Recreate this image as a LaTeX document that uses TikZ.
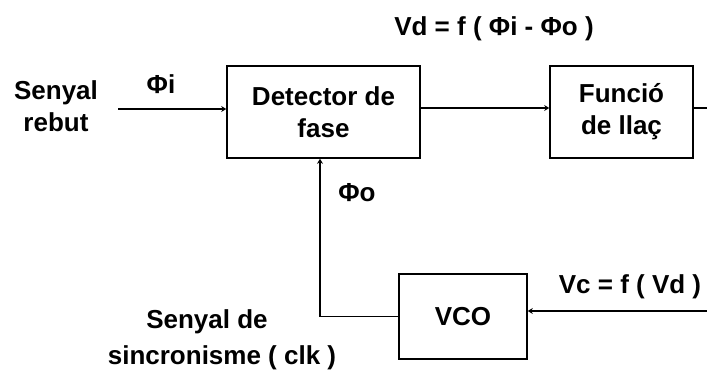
\documentclass[tikz,border=0pt]{standalone}
\usepackage{fontspec}
\setmainfont{Liberation Sans}
\usetikzlibrary{arrows.meta}

\begin{document}
\begin{tikzpicture}[x=1pt, y=-1pt,
        font=\fontsize{26}{32}\selectfont\bfseries,
        blok/.style={draw, line width=1.6pt, align=center, inner sep=0pt},
        linia/.style={line width=1.3pt},
        strzalka/.style={linia, -{Stealth[length=5pt, width=6pt]}},
        etykieta/.style={align=center, inner sep=0pt}]
        \useasboundingbox (0,0) rectangle (707,372);

        % Bloki
        \node[blok, minimum width=193pt, minimum height=92pt] (det) at (323.5,112) {Detector de\\fase};
        \node[blok, minimum width=143pt, minimum height=92pt] (llac) at (621.5,112) {Funció\\de llaç};
        \node[blok, minimum width=128pt, minimum height=85pt] (vco) at (463,316.5) {VCO};

        % Punkty swobodne
        \coordinate (wej) at (118,109);
        \coordinate (wyj) at (707,108);
        \coordinate (vcwej) at (707,311);
        \coordinate (kolano) at (320,316.5);

        % Połączenia
        \draw[strzalka] (wej) -- (wej -| det.west);
        \draw[strzalka] ([yshift=4pt]det.east) -- ([yshift=4pt]llac.west);
        \draw[linia] ([yshift=4pt]llac.east) -- (wyj);
        \draw[strzalka] (vcwej) -- (vcwej -| vco.east);
        \draw[strzalka] (vco.west) -- (kolano) -- (kolano |- det.south);

        % Opisy
        \node[etykieta] (rebut) at (56,106) {Senyal\\rebut};
        \node[etykieta] (fii) at (161,84) {Φi};
        \node[etykieta] (vd) at (494,29) {Vd = f ( Φi - Φo )};
        \node[etykieta] (fio) at (357,193) {Φo};
        \node[etykieta] (vc) at (630,287) {Vc = f ( Vd )};
        \node[etykieta] (sinc1) at (207,322) {Senyal de};
        \node[etykieta] (sinc2) at (222,358) {sincronisme ( clk )};
    \end{tikzpicture}
\end{document}
